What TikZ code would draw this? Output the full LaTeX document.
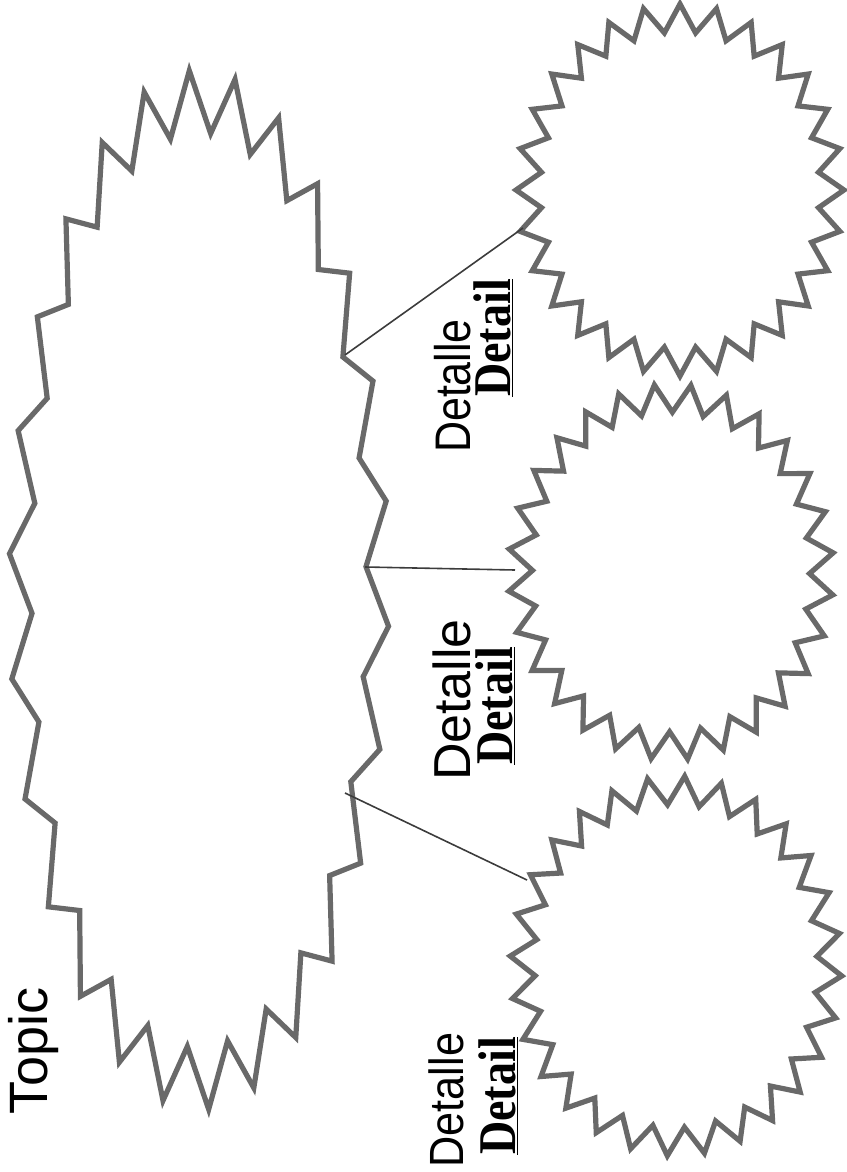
\documentclass[tikz,border=0pt]{standalone}
\usepackage{fontspec}
\setmainfont{Liberation Serif}
\newfontfamily\handfont{Liberation Sans}
\tikzset{
  burstline/.style={draw={rgb,255:red,105;green,105;blue,105}, line width=5.2pt, line join=miter, miter limit=6, fill=white},
  connector/.style={draw={rgb,255:red,60;green,60;blue,60}, line width=1.6pt},
  handlabel/.style={rotate=90, anchor=base, inner sep=0pt, text=black},
  detaillabel/.style={rotate=90, anchor=base, inner sep=0pt, text=black, xscale=0.87, font=\bfseries\fontsize{53}{58}\selectfont}
}
% #1 cx, #2 cy, #3 rx, #4 ry, #5 N spikes, #6 2N-1, #7 phase, #8 depth factor
\newcommand{\myburst}[8]{%
  \draw[burstline] plot[samples at={0,...,#6}]
    ({#1 + #3*(1-#8*mod(\x,2))*cos(#7+\x*180/#5)},
     {#2 + #4*(1-#8*mod(\x,2))*sin(#7+\x*180/#5)}) -- cycle;}
\begin{document}
\begin{tikzpicture}[x=1pt,y=-1pt]
\useasboundingbox (0,0) rectangle (846,1172);
% main topic burst
\myburst{199}{590}{190}{520}{26}{51}{4}{0.12}
% detail bursts
\myburst{680}{190}{164}{186}{28}{55}{0}{0.15}
\myburst{671}{572}{163}{188}{28}{55}{7}{0.15}
\myburst{676}{966}{166}{190}{28}{55}{3}{0.15}
% connector end points
\coordinate (topA) at (345,355);
\coordinate (topB) at (523,228);
\coordinate (midA) at (365,567);
\coordinate (midB) at (515,570);
\coordinate (botA) at (345,793);
\coordinate (botB) at (527,880);
\draw[connector] (topA) -- (topB);
\draw[connector] (midA) -- (midB);
\draw[connector] (botA) -- (botB);
% labels
\node[handlabel, font=\handfont\fontsize{54}{60}\selectfont] (topic) at (47,1051) {Topic};
\node[handlabel, font=\handfont\fontsize{50}{56}\selectfont, xscale=0.86] (dl1) at (470,386) {Detalle};
\node[detaillabel] (d1) at (510,338) {\underline{Detail}};
\node[handlabel, font=\handfont\fontsize{52}{58}\selectfont] (dl2) at (470,700) {Detalle};
\node[detaillabel] (d2) at (512,706) {\underline{Detail}};
\node[handlabel, font=\handfont\fontsize{48}{54}\selectfont, xscale=0.9] (dl3) at (463,1100) {Detalle};
\node[detaillabel] (d3) at (515,1096) {\underline{Detail}};
\end{tikzpicture}
\end{document}
